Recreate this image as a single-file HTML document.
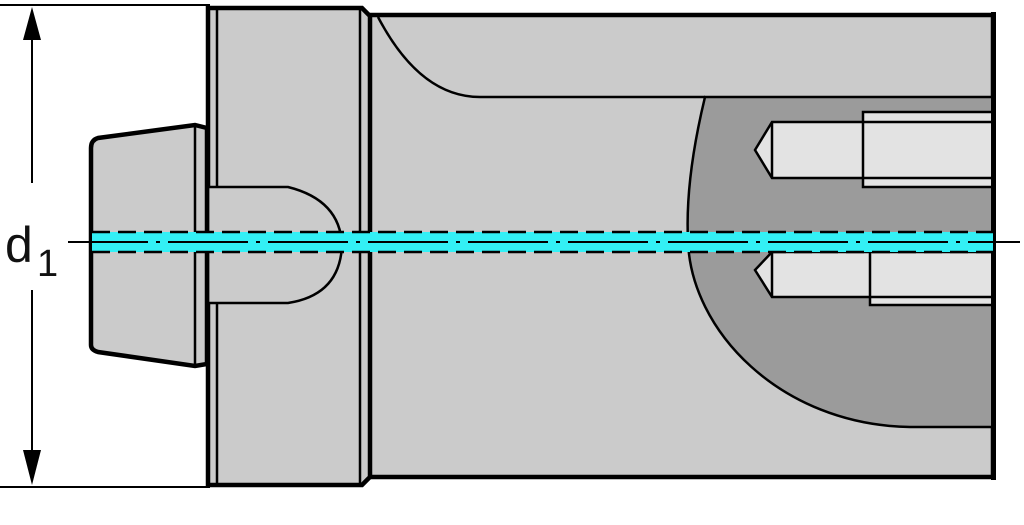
<!DOCTYPE html>
<html><head><style>html,body{margin:0;padding:0;background:#fff}</style></head>
<body>
<svg width="1024" height="520" viewBox="0 0 1024 520" xmlns="http://www.w3.org/2000/svg" font-family="Liberation Sans, sans-serif">
<!-- dimension lines -->
<line x1="0" y1="5" x2="210" y2="5" stroke="#000" stroke-width="2"/>
<line x1="0" y1="487" x2="210" y2="487" stroke="#000" stroke-width="2"/>
<line x1="32" y1="30" x2="32" y2="183" stroke="#000" stroke-width="2"/>
<line x1="32" y1="290" x2="32" y2="462" stroke="#000" stroke-width="2"/>
<polygon points="32,7 23,40 41,40" fill="#000"/>
<polygon points="32,485 23,450 41,450" fill="#000"/>
<text x="5" y="262" font-size="50" fill="#111">d</text>
<text x="37" y="276" font-size="38" fill="#111">1</text>
<!-- body -->
<rect x="368" y="15" width="625" height="462" fill="#cbcbcb" stroke="#000" stroke-width="4.5"/>
<path d="M378,17 Q420,97 480,97 L705,97" fill="none" stroke="#000" stroke-width="2.5"/>
<path d="M705,97 L993,97 L993,427 L910,427 C780,425 690,330 688,240 Q685,180 705,97 Z" fill="#9b9b9b" stroke="#000" stroke-width="2.5"/>
<!-- holes -->
<rect x="863" y="112" width="130" height="75" fill="#e3e3e3" stroke="#000" stroke-width="2.5"/>
<path d="M993,122 L772,122 L755,150 L772,178 L993,178" fill="#e3e3e3" stroke="#000" stroke-width="2.5"/>
<line x1="863" y1="122" x2="863" y2="178" stroke="#000" stroke-width="2.5"/>
<line x1="772" y1="122" x2="772" y2="178" stroke="#000" stroke-width="2.5"/>
<rect x="870" y="245" width="123" height="60" fill="#e3e3e3" stroke="#000" stroke-width="2.5"/>
<path d="M993,252 L772,252 L755,270 L772,297 L993,297" fill="#e3e3e3" stroke="#000" stroke-width="2.5"/>
<line x1="772" y1="252" x2="772" y2="297" stroke="#000" stroke-width="2.5"/>
<line x1="870" y1="252" x2="870" y2="297" stroke="#000" stroke-width="2.5"/>
<rect x="991" y="12" width="5" height="468" fill="#000"/>
<!-- flange -->
<path d="M208,8 L362,8 L370,16 L370,477 L362,485 L208,485 Z" fill="#cbcbcb" stroke="#000" stroke-width="4.5"/>
<line x1="217" y1="10" x2="217" y2="483" stroke="#000" stroke-width="2.5"/>
<line x1="360" y1="10" x2="360" y2="483" stroke="#000" stroke-width="2.5"/>
<!-- semicircle -->
<path d="M208,187 L288,187 Q340,200 342,245 Q340,295 288,303 L208,303 Z" fill="#cbcbcb" stroke="#000" stroke-width="2.5"/>
<!-- nose -->
<path d="M207,128 L195,125 L98,138 Q91,140 91,148 L91,345 Q91,350 98,352 L195,366 L207,364 Z" fill="#cbcbcb" stroke="#000" stroke-width="4.5"/>
<line x1="195" y1="127" x2="195" y2="364" stroke="#000" stroke-width="2.5"/>
<!-- centerline -->
<rect x="92" y="232" width="901" height="20" fill="#33f0f5"/>
<line x1="92" y1="232" x2="993" y2="232" stroke="#000" stroke-width="2.5" stroke-dasharray="18,8"/>
<line x1="92" y1="252" x2="993" y2="252" stroke="#000" stroke-width="2.5" stroke-dasharray="18,8"/>
<line x1="68" y1="242" x2="1020" y2="242" stroke="#000" stroke-width="2" stroke-dasharray="80,8,4,8"/>
</svg>
</body></html>
